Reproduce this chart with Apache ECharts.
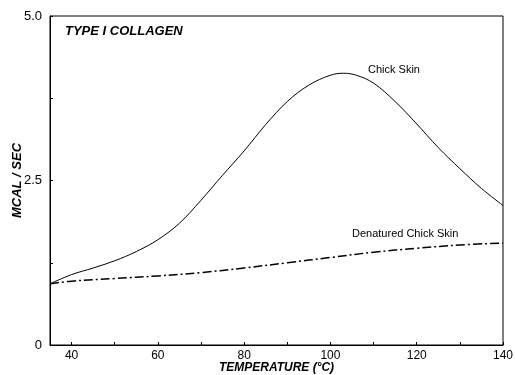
<!DOCTYPE html>
<html><head><meta charset="utf-8">
<script src="https://cdn.jsdelivr.net/npm/echarts@6/dist/echarts.min.js"></script>
<style>html,body{margin:0;padding:0;background:#fff}#c{width:515px;height:375px}</style>
</head><body><div id="c"></div>
<script>
const temps = [35,40,45,50,55,60,65,70,75,80,85,90,95,100,103,106,110,115,120,125,130,135,140];
const chickSkin = [0.93,1.07,1.17,1.28,1.42,1.6,1.85,2.2,2.58,2.95,3.35,3.7,3.95,4.1,4.13,4.1,3.98,3.7,3.36,3.0,2.68,2.38,2.12];
const denatTemps = [35,40,50,60,70,80,90,100,110,120,130,140];
const denatured = [0.93,0.97,1.01,1.05,1.1,1.17,1.25,1.33,1.41,1.47,1.52,1.55];
const xTicks = [40,50,60,70,80,90,100,110,120,130,140];
const xLabels = [40,60,80,100,120,140];
const yTicks = [0,1.25,2.5,3.75,5];
const yLabels = [0,2.5,5];

const chart = echarts.init(document.getElementById('c'));
chart.setOption({
  animation:false,
  grid:{left:50,right:12,top:16,bottom:30,show:true,borderColor:'#000',borderWidth:1,outerBoundsMode:'none',containLabel:false},
  xAxis:{type:'value',min:35,max:140,
    name:'TEMPERATURE (°C)',nameLocation:'middle',nameGap:17,nameMoveOverlap:false,
    nameTextStyle:{fontFamily:'Liberation Sans',fontStyle:'italic',fontWeight:'bold',fontSize:12,color:'#000'},
    axisLine:{lineStyle:{color:'#000'}},
    axisTick:{inside:true,length:3,customValues:xTicks,lineStyle:{color:'#000'}},
    axisLabel:{customValues:xLabels,color:'#000',fontFamily:'Liberation Sans',fontSize:12,margin:5},
    splitLine:{show:false}},
  yAxis:{type:'value',min:0,max:5,
    name:'MCAL / SEC',nameLocation:'middle',nameGap:26,nameMoveOverlap:false,
    nameTextStyle:{fontFamily:'Liberation Sans',fontStyle:'italic',fontWeight:'bold',fontSize:13,color:'#000'},
    axisLine:{lineStyle:{color:'#000'}},
    axisTick:{inside:true,length:3,customValues:yTicks,lineStyle:{color:'#000'}},
    axisLabel:{customValues:yLabels,color:'#000',fontFamily:'Liberation Sans',fontSize:13,margin:8,
      formatter:v=>v===0?'0':v.toFixed(1)},
    splitLine:{show:false}},
  graphic:[
    {type:'text',left:65,top:25,style:{text:'TYPE I COLLAGEN',font:'italic bold 13px "Liberation Sans"',fill:'#000'}},
    {type:'text',left:368,top:64,style:{text:'Chick Skin',font:'11px "Liberation Sans"',fill:'#000'}},
    {type:'text',left:352,top:228,style:{text:'Denatured Chick Skin',font:'11px "Liberation Sans"',fill:'#000'}}
  ],
  series:[
    {type:'line',data:temps.map((t,i)=>[t,chickSkin[i]]),smooth:0.35,showSymbol:false,
      lineStyle:{color:'#000',width:1}},
    {type:'line',data:denatTemps.map((t,i)=>[t,denatured[i]]),smooth:0.4,showSymbol:false,
      lineStyle:{color:'#000',width:1.5,type:[9,3,2,3]}}
  ]
});
</script></body></html>
